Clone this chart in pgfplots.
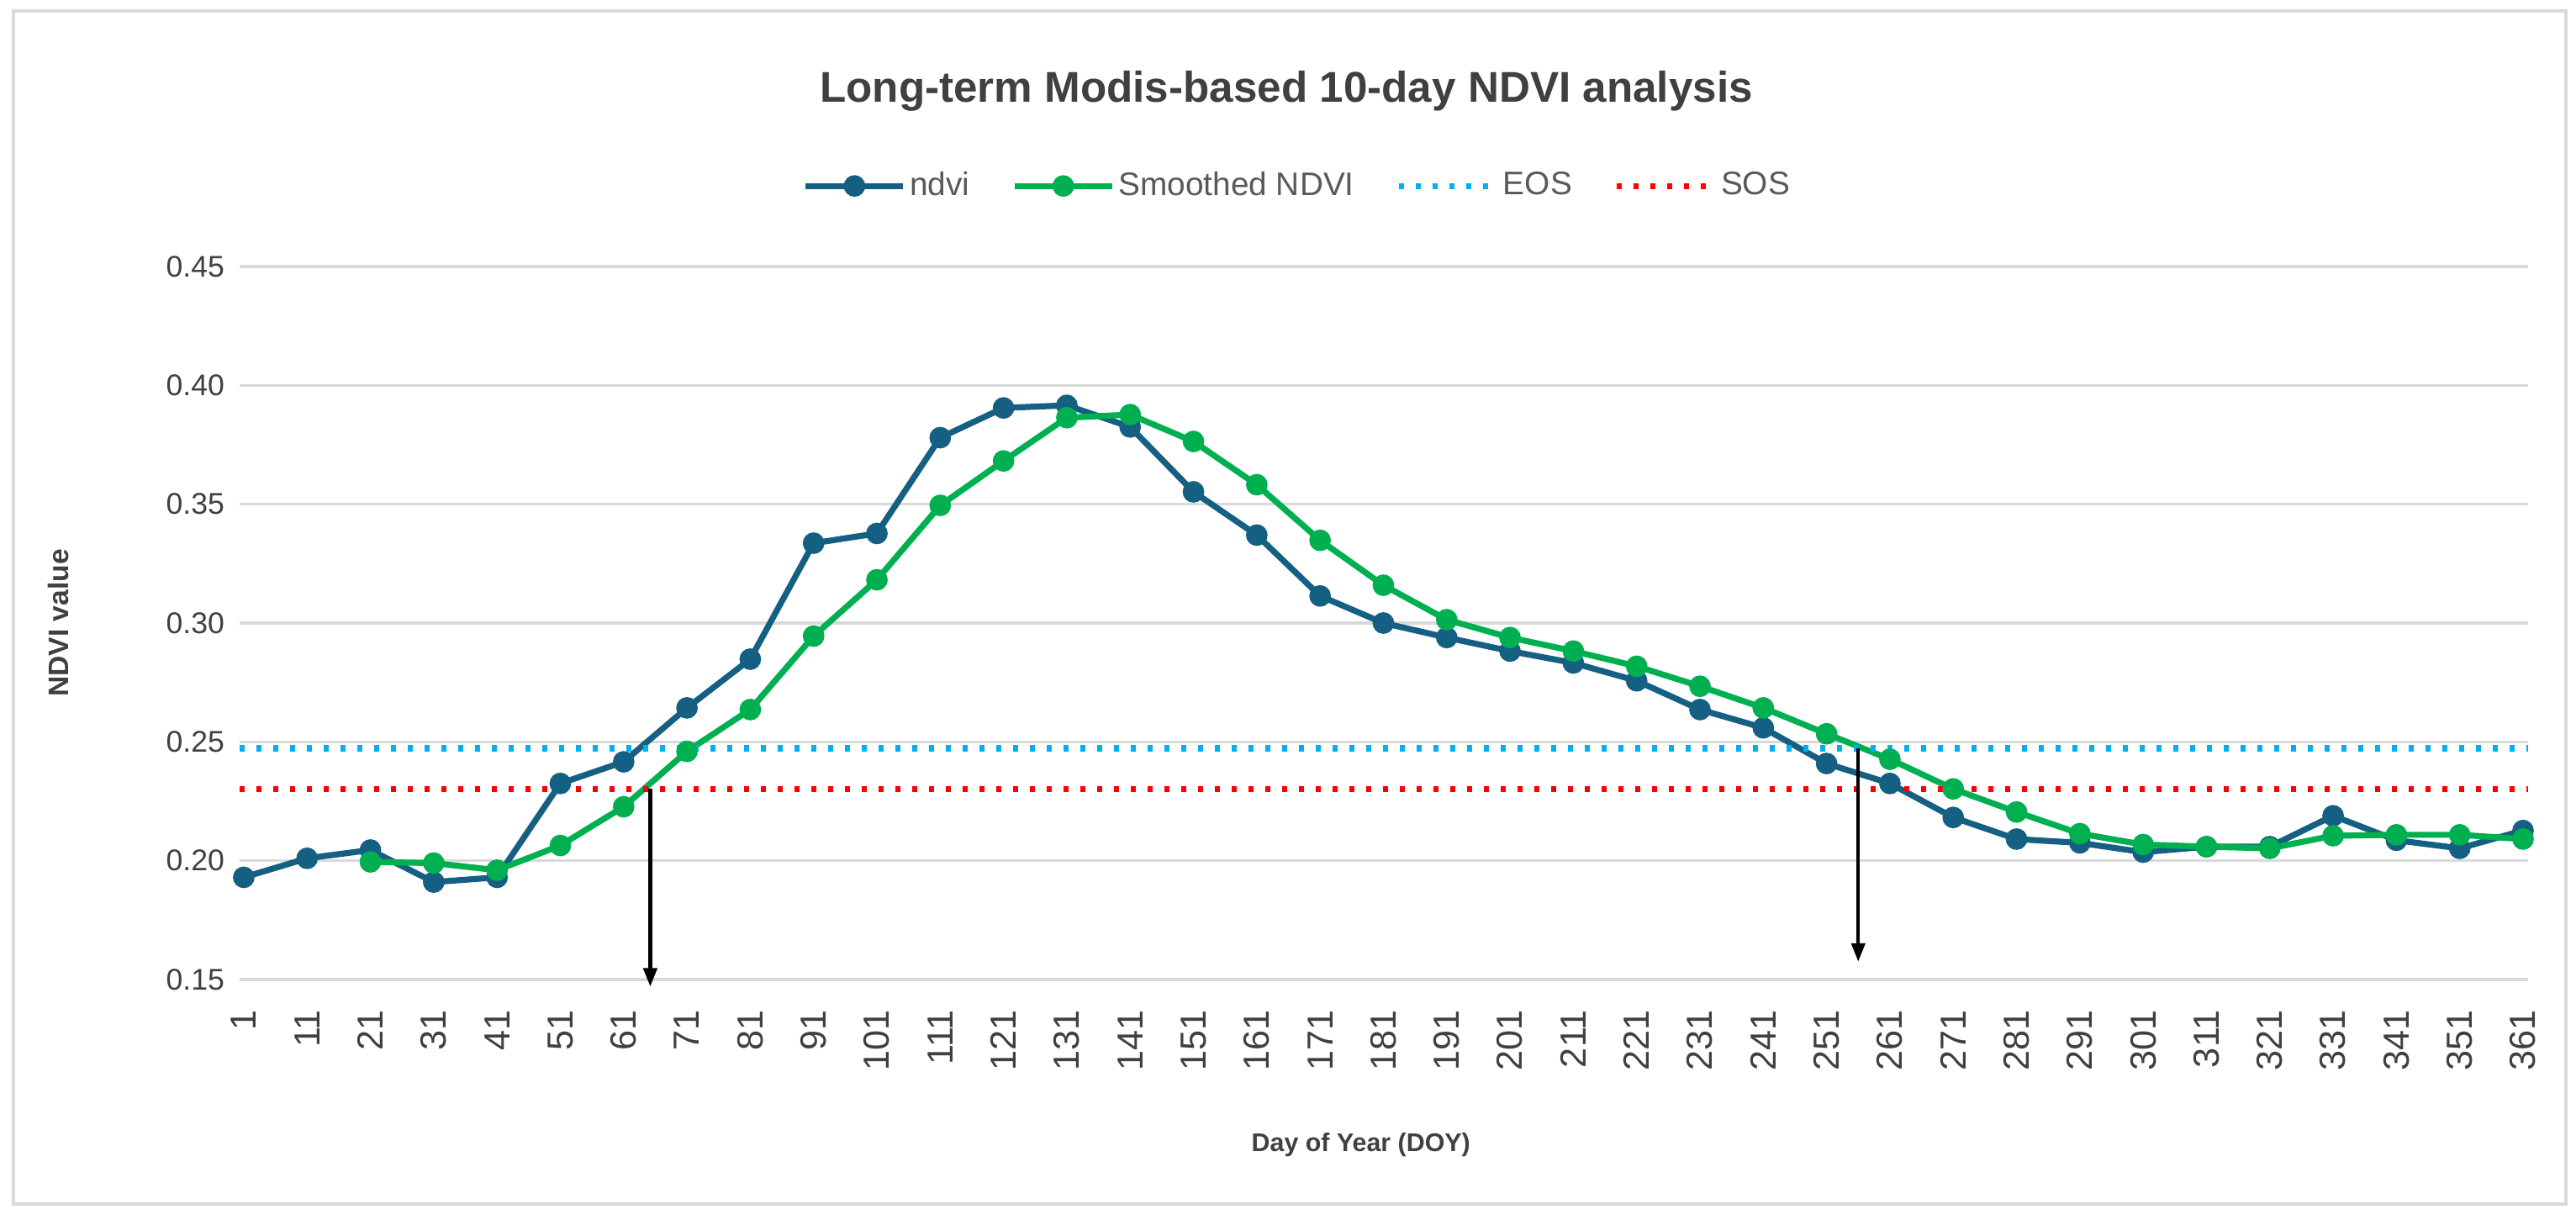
\documentclass[border=0pt]{standalone}
\usepackage{pgfplots}
\pgfplotsset{compat=1.18}
\usepackage{pgfplotstable}
\usepackage{fontspec}
\setmainfont{Liberation Sans}
\usetikzlibrary{arrows.meta}
\definecolor{ndviblue}{HTML}{156082}
\definecolor{smgreen}{HTML}{00B050}
\definecolor{eosblue}{HTML}{00B0F0}
\definecolor{sosred}{HTML}{FF0000}
\definecolor{gridgray}{HTML}{D9D9D9}
\definecolor{txtgray}{HTML}{404040}
\definecolor{leggray}{HTML}{595959}

\pgfplotstableread{
doy ndvi
1 0.193
11 0.201
21 0.2045
31 0.191
41 0.193
51 0.2325
61 0.2416
71 0.2643
81 0.2848
91 0.3336
101 0.3377
111 0.378
121 0.3905
131 0.3916
141 0.3825
151 0.3552
161 0.337
171 0.3114
181 0.300
191 0.2939
201 0.2882
211 0.2832
221 0.2757
231 0.2636
241 0.2559
251 0.2409
261 0.2325
271 0.2182
281 0.2091
291 0.2075
301 0.2036
311 0.2059
321 0.2059
331 0.2189
341 0.2086
351 0.2052
361 0.2127
}\ndvidata

\pgfplotstableread{
doy smooth
21 0.1995
31 0.199
41 0.196
51 0.2064
61 0.2227
71 0.246
81 0.2636
91 0.2945
101 0.3182
111 0.3495
121 0.3682
131 0.3864
141 0.3877
151 0.3764
161 0.3582
171 0.3348
181 0.3159
191 0.3014
201 0.2939
211 0.2882
221 0.2818
231 0.2734
241 0.2643
251 0.2534
261 0.2427
271 0.2302
281 0.2205
291 0.2114
301 0.2068
311 0.2059
321 0.2052
331 0.2105
341 0.2109
351 0.2109
361 0.2091
}\smoothdata

\begin{document}
\begin{tikzpicture}
\path[use as bounding box] (0pt,0pt) rectangle (766pt,362.5pt);
\draw[draw=gridgray, line width=1.2pt] (4pt,4.5pt) rectangle (763pt,359.25pt);
\node[font=\bfseries\fontsize{12.8}{15}\selectfont, text=txtgray] at (382.5pt,335.5pt) {Long-term Modis-based 10-day NDVI analysis};
\begin{axis}[
  at={(71.25pt,71.25pt)}, anchor=south west,
  scale only axis, width=680.5pt, height=212pt,
  xmin=0.34, xmax=361.8, ymin=0.15, ymax=0.45,
  xtick={1,11,...,361},
  ytick={0.15,0.2,0.25,0.3,0.35,0.4,0.45},
  axis line style={draw=none},
  major tick length=0pt,
  tick style={draw=none},
  ymajorgrids, grid style={draw=gridgray, line width=0.9pt},
  clip=false,
  /pgf/number format/assume math mode=true,
  ticklabel style={text=txtgray},
  xticklabel style={rotate=90, anchor=east, font=\fontsize{10.8}{12}\selectfont},
  xticklabel shift=5.5pt,
  yticklabel style={font=\fontsize{8.9}{11}\selectfont, /pgf/number format/fixed, /pgf/number format/fixed zerofill, /pgf/number format/precision=2},
  yticklabel shift=1pt,
  xlabel={Day of Year (DOY)},
  xlabel style={at={(axis description cs:0.49,-0.232)}, anchor=center, font=\bfseries\fontsize{7.6}{9}\selectfont, text=txtgray},
  ylabel={NDVI value},
  ylabel style={at={(axis description cs:-0.0790,0.5)}, anchor=center, font=\bfseries\fontsize{8.4}{10}\selectfont, text=txtgray},
  legend columns=4,
  legend style={at={(axis description cs:0.4625,1.113)}, anchor=center, draw=none, fill=none,
    font=\fontsize{9.7}{11}\selectfont, text=leggray,
    nodes={inner sep=1pt},
    /tikz/every even column/.append style={column sep=11.5pt}},
  legend cell align=left,
]
\addplot[color=ndviblue, line width=1.8pt, mark=*, mark size=2.3pt,
  legend image code/.code={\draw[mark repeat=2,mark phase=2] plot coordinates {(0pt,0pt) (14.5pt,0pt) (29pt,0pt)};}]
  table[x=doy, y=ndvi] {\ndvidata};
\addlegendentry{ndvi}
\addplot[color=smgreen, line width=1.8pt, mark=*, mark size=2.3pt,
  legend image code/.code={\draw[mark repeat=2,mark phase=2] plot coordinates {(0pt,0pt) (14.5pt,0pt) (29pt,0pt)};}]
  table[x=doy, y=smooth] {\smoothdata};
\addlegendentry{Smoothed NDVI}
\addplot[color=eosblue, line width=1.8pt, dash pattern=on 1.5pt off 3.5pt,
  legend image code/.code={\draw (0pt,0pt) -- (29pt,0pt);}]
  coordinates {(0.34,0.2473) (361.8,0.2473)};
\addlegendentry{EOS}
\addplot[color=sosred, line width=1.8pt, dash pattern=on 1.5pt off 3.5pt,
  legend image code/.code={\draw (0pt,0pt) -- (29pt,0pt);}]
  coordinates {(0.34,0.2302) (361.8,0.2302)};
\addlegendentry{SOS}
\addplot[black, line width=1.1pt, -{Triangle[length=5.5pt,width=4pt]}, forget plot]
  coordinates {(65.2,0.2302) (65.2,0.147)};
\addplot[black, line width=1.1pt, -{Triangle[length=5.5pt,width=4pt]}, forget plot]
  coordinates {(256,0.2473) (256,0.1575)};
\end{axis}
\end{tikzpicture}
\end{document}
